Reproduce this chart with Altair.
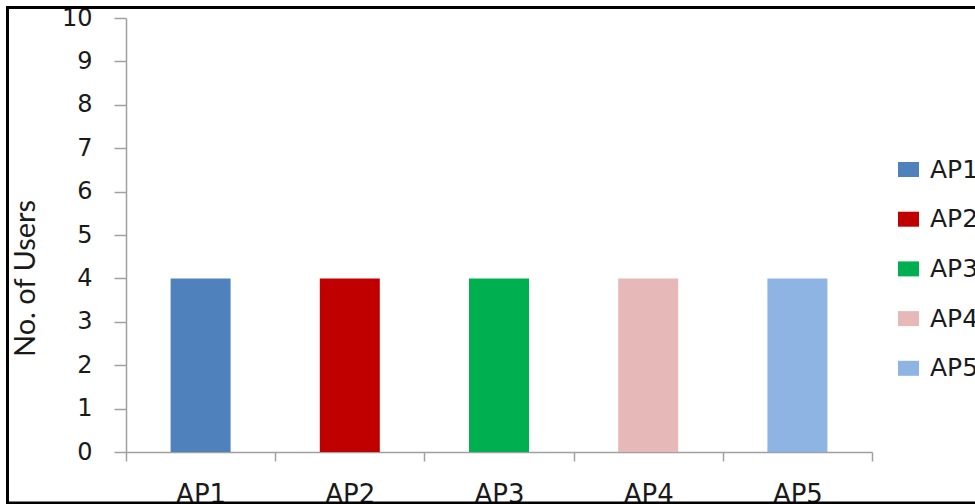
import altair as alt
import pandas as pd

# Access points and the number of users connected to each
access_points = ["AP1", "AP2", "AP3", "AP4", "AP5"]
users = [4, 4, 4, 4, 4]
colors = ["#4F81BD", "#C00000", "#00B050", "#E6B9B8", "#8DB4E2"]

df = pd.DataFrame({"ap": access_points, "users": users})

W, H = 746, 434

bars = alt.Chart(df).mark_bar(width=60).encode(
    x=alt.X(
        "ap:N",
        sort=access_points,
        scale=alt.Scale(paddingInner=0, paddingOuter=0),
        axis=alt.Axis(
            title=None,
            labelAngle=0,
            tickBand="extent",
            tickSize=9,
            labelPadding=41,
            labelBaseline="alphabetic",
            labelFont="DejaVu Sans",
            labelFontSize=26,
            labelColor="#1a1a1a",
            domainColor="#a0a0a0",
            tickColor="#a0a0a0",
            domainWidth=1.5,
            tickWidth=1.5,
        ),
    ),
    y=alt.Y(
        "users:Q",
        scale=alt.Scale(domain=[0, 10], nice=False),
        axis=alt.Axis(
            title="No. of Users",
            values=list(range(0, 11)),
            grid=False,
            tickSize=12,
            labelPadding=22,
            labelFont="DejaVu Sans",
            labelFontSize=24,
            labelColor="#1a1a1a",
            domainColor="#a0a0a0",
            tickColor="#a0a0a0",
            domainWidth=1.5,
            tickWidth=1.5,
            titleFont="Lato",
            titleFontSize=29,
            titleFontWeight="normal",
            titleColor="#1a1a1a",
            titleX=-101,
            titleY=260,
            titleAngle=-90,
            titleAlign="center",
            titleBaseline="middle",
        ),
    ),
    color=alt.Color(
        "ap:N",
        sort=access_points,
        scale=alt.Scale(domain=access_points, range=colors),
        legend=alt.Legend(
            title=None,
            orient="none",
            legendX=770,
            legendY=139,
            padding=0,
            symbolType="M-1,-0.714L1,-0.714L1,0.714L-1,0.714Z",
            symbolSize=441,
            symbolStrokeWidth=0,
            labelFont="DejaVu Sans",
            labelFontSize=25,
            labelColor="#1a1a1a",
            labelOffset=9,
            rowPadding=23.7,
        ),
    ),
)

# Outer black frame around the whole figure
frame = alt.Chart(df.head(1)).mark_rect(
    fill=None, stroke="black", strokeWidth=3
).encode(
    x=alt.value(-118.5),
    x2=alt.value(880),
    y=alt.value(-10.5),
    y2=alt.value(485),
)

chart = alt.layer(bars, frame).properties(
    width=W,
    height=H,
    padding={"left": 126, "top": 18, "right": 103, "bottom": 52},
    autosize=alt.AutoSizeParams(type="none"),
).configure_view(stroke=None)

chart.save("out.html", embed_options={"renderer": "svg", "actions": False})
